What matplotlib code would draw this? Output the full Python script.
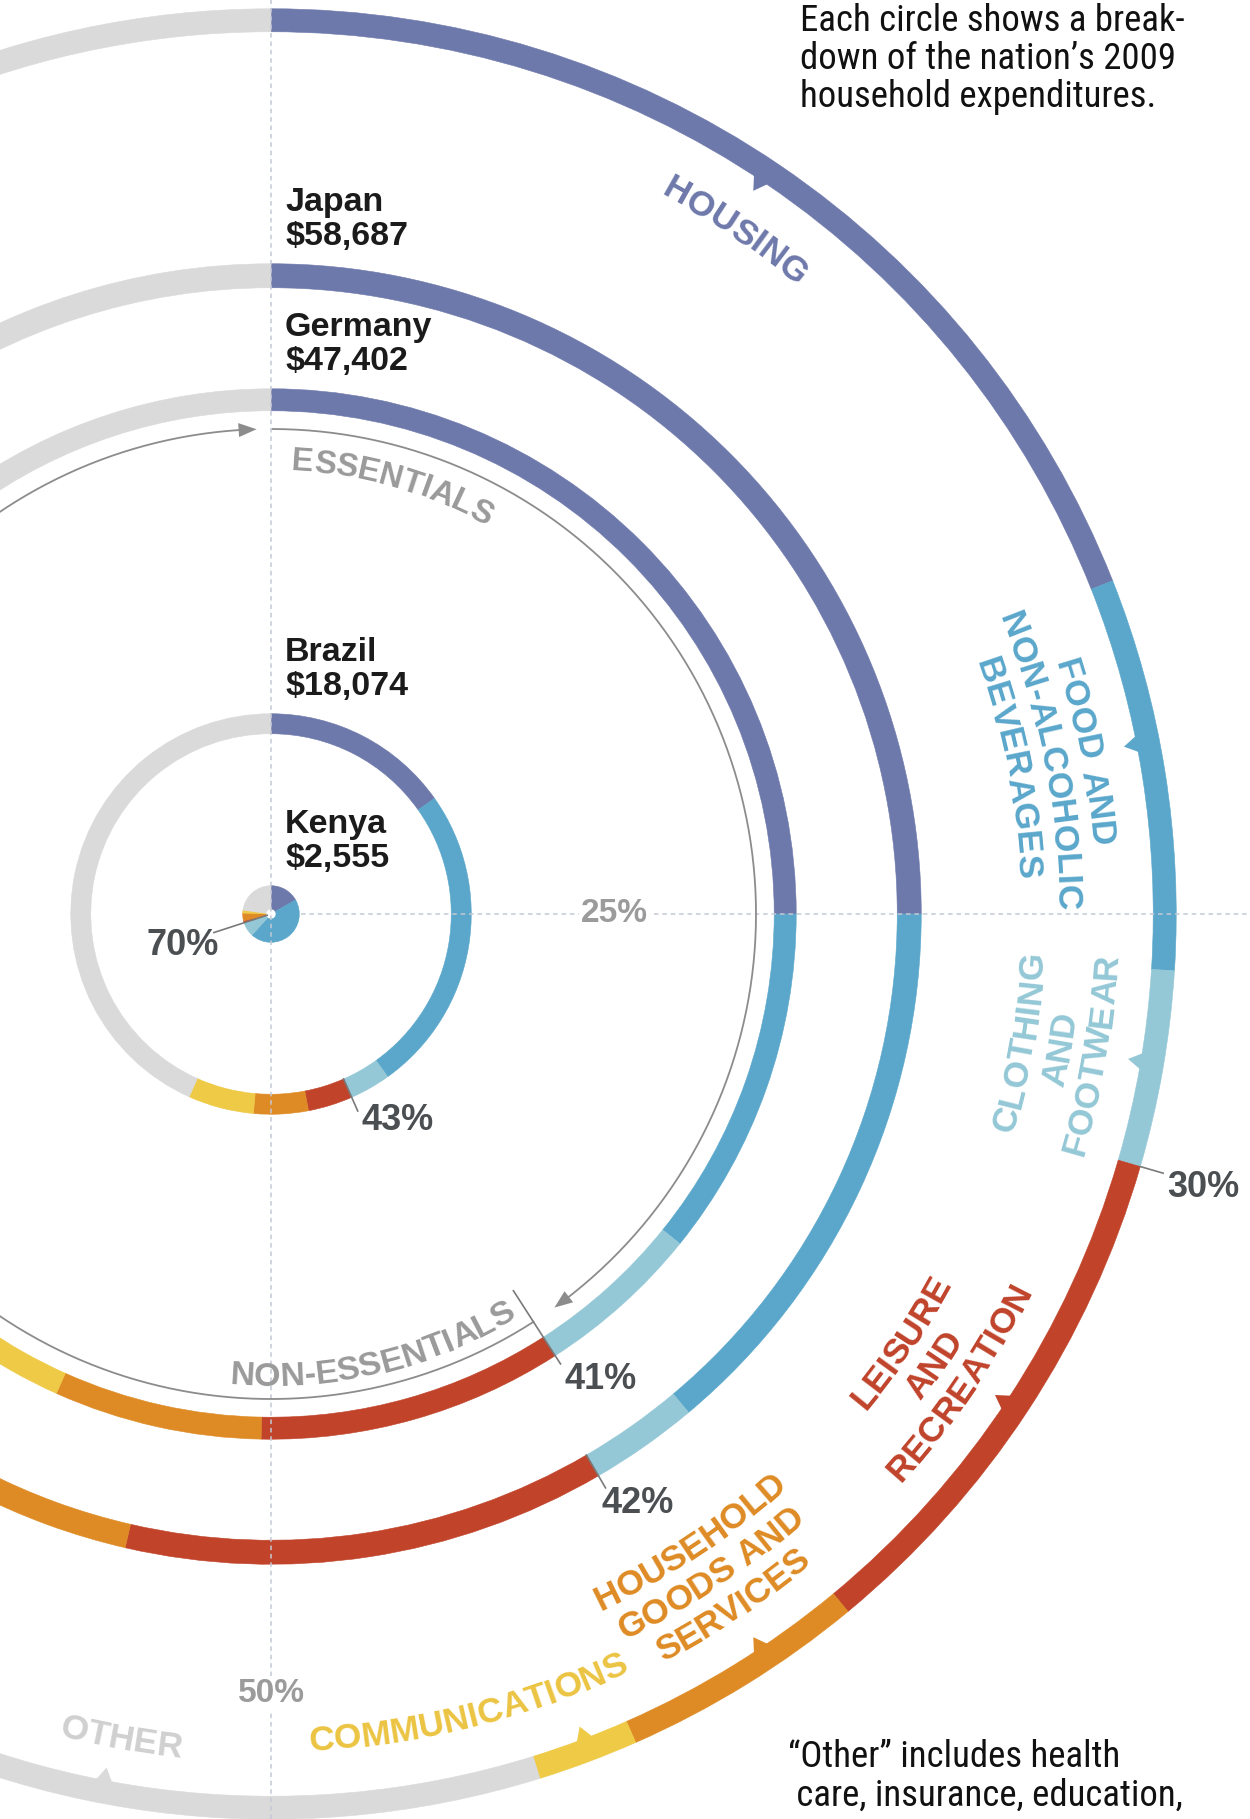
import matplotlib
matplotlib.use('Agg')
import matplotlib.pyplot as plt
import numpy as np
from matplotlib.patches import Wedge, Polygon
from matplotlib.font_manager import FontProperties, fontManager
from matplotlib.textpath import TextToPath

# household spending per nation, 2009 (US value estimated, its label is off the page)
countries = ['United States', 'Japan', 'Germany', 'Brazil', 'Kenya']
spending = [81700, 58687, 47402, 18074, 2555]
show_label = [False, True, True, True, True]

categories = ['Housing', 'Food and non-alcoholic beverages', 'Clothing and footwear',
              'Leisure and recreation', 'Household goods and services', 'Communications', 'Other']
colors = ['#6e79ab', '#5aa7cb', '#94c8d6', '#c0432a', '#de8b25', '#eeca46', '#dadada']

# shares of spending in percent, same order as categories
us_shares = [19.0, 7.0, 3.5, 9.5, 4.4, 1.8, 54.8]
japan_shares = [25.0, 13.9, 2.7, 12.0, 4.0, 3.0, 39.4]
germany_shares = [25.0, 10.8, 5.1, 9.4, 6.4, 3.0, 40.3]
brazil_shares = [15.2, 24.9, 3.3, 3.6, 4.4, 5.3, 43.3]
kenya_shares = [16.7, 45.0, 8.3, 1.1, 4.4, 1.7, 22.8]
shares = [us_shares, japan_shares, germany_shares, brazil_shares, kenya_shares]

label_lines = [['HOUSING'], ['FOOD AND', 'NON-ALCOHOLIC', 'BEVERAGES'], ['CLOTHING', 'AND', 'FOOTWEAR'],
               ['LEISURE', 'AND', 'RECREATION'], ['HOUSEHOLD', 'GOODS AND', 'SERVICES'],
               ['COMMUNICATIONS'], ['OTHER']]
label_colors = ['#6e79ab', '#5aa7cb', '#94c8d6', '#c0432a', '#de8b25', '#ecc443', '#d0d0d0']

note_top = ['Each circle shows a break-', 'down of the nation\u2019s 2009', 'household expenditures.']
note_bottom = ['\u201cOther\u201d includes health', ' care, insurance, education,']

# ---- layout ----
W, H = 1250, 1819
CX, CY = 271, 905           # centre of the circles (y up)
K = 0.01108                 # px of outer radius per dollar
ring_w = [23, 24, 22, 20, None]
# leader lines: start r, end r (None = ring edges), text alignment, text x / y shift
lead = [(None, 929, 'left', 4, 3), (None, 14, 'left', -4, 2), (448, 535, 'left', 4, 2),
        (None, 15, 'left', 4, 8), (4, 60, 'right', -5, 5)]

label_theta = [34.2, 78.8, 99.7, 124.2, 146.3, 166.0, 190.3]
label_r = [831, 835, 761, 762, 758, 825, 836]
label_top = [True, True, False, False, False, False, False]
notch_theta = [33.7, 78.9, 99.6, 123.6, 146.3, 159.2, 190.9]
LINE_STEP = 37
ARC_R = 485
PX = 100 / 72
BOLD = 'Liberation Sans'

names = {f.name for f in fontManager.ttflist}
NARROW = None
for cand in ['Nimbus Sans Narrow', 'Liberation Sans Narrow', 'Arial Narrow', 'Roboto Condensed',
             'Archivo Narrow', 'PT Sans Narrow', 'Pragati Narrow']:
    if cand in names:
        NARROW = cand
        break
narrow_fp = FontProperties(family=NARROW or 'DejaVu Sans', stretch='condensed', size=24)

ttp = TextToPath()


def text_w(s, fp):
    return ttp.get_text_width_height_descent(s, fp, ismath=False)[0] * PX


# size the note font so the first line spans the same width as in the original
narrow_fp.set_size(24 * 385 / text_w(note_top[0], narrow_fp))


def polar(r, th):
    t = np.radians(th)
    return CX + r * np.sin(t), CY + r * np.cos(t)


def advance(c, fp):
    return text_w('H' + c + 'H', fp) - text_w('HH', fp)


def arc_text(s, r, theta_c, size, color, top=True):
    # r is the baseline radius
    fp = FontProperties(family=BOLD, weight='bold', size=size)
    adv = [advance(c, fp) for c in s]
    pos = -sum(adv) / 2
    for c, a in zip(s, adv):
        d = pos + a / 2
        pos += a
        if c == ' ':
            continue
        if top:
            th = theta_c + np.degrees(d / r)
            rot = -th
        else:
            th = theta_c - np.degrees(d / r)
            rot = 180 - th
        x, y = polar(r, th)
        ax.text(x, y, c, fontproperties=fp, color=color, ha='center', va='baseline',
                rotation=rot, rotation_mode='anchor', zorder=5)


def arrow_head(th_tip, r, length=18, half=7, color='#8c8c8c'):
    dth = np.degrees(length / r)
    pts = [polar(r, th_tip), polar(r + half, th_tip - dth), polar(r - half, th_tip - dth)]
    ax.add_patch(Polygon(pts, closed=True, facecolor=color, edgecolor='none', zorder=4))
    return dth


fig = plt.figure(figsize=(W / 100, H / 100), dpi=100)
ax = fig.add_axes([0, 0, 1, 1])
ax.set_xlim(0, W)
ax.set_ylim(0, H)
ax.axis('off')

# ---- rings ----
ring_out = [K * v for v in spending]
for i, sh in enumerate(shares):
    r_out = ring_out[i]
    w = ring_w[i] if ring_w[i] else r_out - 5
    cum = np.concatenate([[0], np.cumsum(sh)])
    for j in range(len(sh)):
        t1, t2 = 3.6 * cum[j], 3.6 * cum[j + 1]
        ax.add_patch(Wedge((CX, CY), r_out, 90 - t2, 90 - t1, width=w,
                           facecolor=colors[j], edgecolor=colors[j], lw=0.4, zorder=2))

# ---- notches on the outer ring pointing at the labels ----
r_in_us = ring_out[0] - ring_w[0]
cum_us = np.cumsum(us_shares) * 3.6
for th in notch_theta:
    j = int(np.searchsorted(cum_us, th))
    half = np.degrees(9 / r_in_us)
    pts = [polar(r_in_us + 2, th - half), polar(r_in_us + 2, th + half), polar(r_in_us - 13, th)]
    ax.add_patch(Polygon(pts, closed=True, facecolor=colors[j], edgecolor='none', zorder=2))

# ---- dashed guide lines ----
ax.plot([CX, CX], [0, H], color='#c4c9d5', lw=1.1, dashes=(3, 2.5), zorder=3)
ax.plot([CX + 30, W], [CY, CY], color='#c4c9d5', lw=1.1, dashes=(3, 2.5), zorder=3)
for txt, th, r in [('25%', 90, 343), ('50%', 180, 779)]:
    x, y = polar(r, th)
    ax.text(x, y, txt, fontsize=24, fontweight='bold', family=BOLD, color='#9b9b9b',
            ha='center', va='center', zorder=5,
            bbox=dict(facecolor='white', edgecolor='none', pad=1.5))

# ---- essentials / non-essentials arcs ----
ess_split = 3.6 * sum(germany_shares[:3])
dth = arrow_head(ess_split - 3.0, ARC_R)
t = np.linspace(0.2, ess_split - 3.0 - dth, 200)
xs, ys = polar(ARC_R, t)
ax.plot(xs, ys, color='#8c8c8c', lw=1.3, zorder=4)
dth = arrow_head(358.3, ARC_R)
t = np.linspace(ess_split, 358.3 - dth, 300)
xs, ys = polar(ARC_R, t)
ax.plot(xs, ys, color='#8c8c8c', lw=1.3, zorder=4)
arc_text('ESSENTIALS', 444, 15.8, 23.5, '#9a9a9a', top=True)
arc_text('NON-ESSENTIALS', 472, 166.8, 24.5, '#9a9a9a', top=False)

# ---- essentials share labels with leader lines ----
for i, sh in enumerate(shares):
    ess = sum(sh[:3])
    th = 3.6 * ess
    r0, r1, ha, dx, dy = lead[i]
    if r0 is None:
        r0 = ring_out[i] - ring_w[i] if i > 0 else ring_out[i]
    if i in (1, 3):
        r1 = ring_out[i] + r1
    x0, y0 = polar(r0, th)
    x1, y1 = polar(r1, th)
    ax.plot([x0, x1], [y0, y1], color='#7a7a7a', lw=1.2, zorder=4)
    ax.text(x1 + (dx if ha == 'left' else -dx), y1 + dy, f'{round(ess)}%', fontsize=26,
            fontweight='bold', family=BOLD, color='#4b4f52', ha=ha, va='top', zorder=5)

# ---- country labels ----
for i, name in enumerate(countries):
    if not show_label[i]:
        continue
    ax.text(CX + 14, CY + ring_out[i] + 12, f'{name}\n${spending[i]:,}', fontsize=24.5,
            fontweight='bold', family=BOLD, color='#1b1b1b', ha='left', va='bottom',
            linespacing=1.12, zorder=5)

# ---- category labels along the outer ring ----
cap = 0.72 * 25 * PX
for k, lines in enumerate(label_lines):
    for i, line in enumerate(lines):
        if label_top[k]:
            rc = label_r[k] - i * LINE_STEP
            arc_text(line, rc - cap / 2, label_theta[k], 25.5, label_colors[k], top=True)
        else:
            rc = label_r[k] + i * LINE_STEP
            arc_text(line, rc + cap / 2, label_theta[k], 25.5, label_colors[k], top=False)

# ---- notes ----
cap_n = 0.72 * narrow_fp.get_size_in_points() * PX
for i, line in enumerate(note_top):
    ax.text(800, H - 5 - cap_n - i * 38, line, fontproperties=narrow_fp, color='#111111',
            ha='left', va='baseline')
for i, line in enumerate(note_bottom):
    ax.text(788, 78 - cap_n - i * 38, line, fontproperties=narrow_fp, color='#111111',
            ha='left', va='baseline')

fig.savefig('out.png', dpi=100)
